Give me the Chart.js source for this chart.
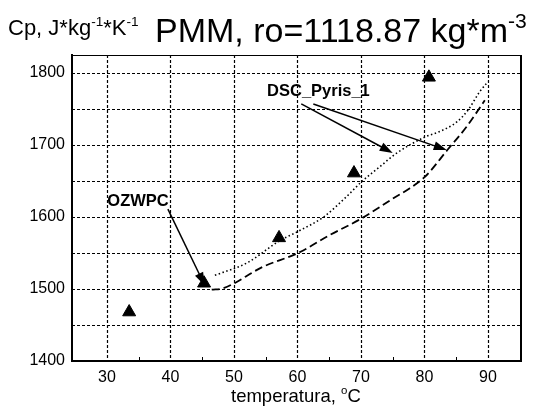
<!DOCTYPE html>
<html>
<head>
<meta charset="utf-8">
<script src="https://cdn.jsdelivr.net/npm/chart.js@4"></script>
<style>
    html, body { margin: 0; padding: 0; background: #fff; }
</style>
</head>
<body>
<canvas id="cp-chart" width="541" height="412"></canvas>
<script>
// Data
const tempTicks = [30, 40, 50, 60, 70, 80, 90];
const cpTicks = [1400, 1450, 1500, 1550, 1600, 1650, 1700, 1750, 1800];

// OZWPC measurements (triangles)
const ozwpcTemp = [33.5, 45.3, 57.1, 68.9, 80.7];
const ozwpcCp = [1468, 1508, 1571, 1661, 1794];

// DSC_Pyris_1, dotted curve
const dscDotTemp = [47.0, 52.0, 57.2, 60.1, 64.1, 67.7, 70.1, 73.0, 75.5, 80.3, 82.2, 85.1, 86.9, 88.7, 90.0];
const dscDotCp = [1519, 1536, 1567, 1580, 1600, 1628, 1649, 1670, 1688, 1712, 1718, 1732, 1749, 1774, 1788];

// DSC_Pyris_1, dashed curve
const dscDashTemp = [46.5, 48.3, 54.6, 60.1, 65.1, 70.1, 75.1, 77.7, 80.1, 83.6, 86.6, 88.5, 89.5];
const dscDashCp = [1499, 1501, 1531, 1550, 1575, 1598, 1626, 1640, 1656, 1693, 1725, 1749, 1762];

const toPoints = (xs, ys) => xs.map((x, i) => ({ x, y: ys[i] }));

// Labels with arrows, in data units
const notes = [
    { text: 'DSC_Pyris_1', x: 63.3, y: 1774, arrows: [[60.6, 1757, 75.0, 1689], [62.5, 1757, 83.5, 1693]] },
    { text: 'OZWPC', x: 34.9, y: 1622, arrows: [[39.6, 1611, 45.4, 1505]] }
];

const FONT = 'Arial, "Liberation Sans", sans-serif';

function arrow(ctx, x1, y1, x2, y2) {
    const ang = Math.atan2(y2 - y1, x2 - x1);
    const len = 13, half = 4.5;
    ctx.beginPath();
    ctx.moveTo(x1, y1);
    ctx.lineTo(x2 - Math.cos(ang) * len * 0.8, y2 - Math.sin(ang) * len * 0.8);
    ctx.stroke();
    ctx.beginPath();
    ctx.moveTo(x2, y2);
    ctx.lineTo(x2 - Math.cos(ang) * len - Math.sin(ang) * half, y2 - Math.sin(ang) * len + Math.cos(ang) * half);
    ctx.lineTo(x2 - Math.cos(ang) * len + Math.sin(ang) * half, y2 - Math.sin(ang) * len - Math.cos(ang) * half);
    ctx.closePath();
    ctx.fill();
}

// draw runs of text, some raised as superscripts
function drawRuns(ctx, x, y, runs, size) {
    runs.forEach(r => {
        const s = r.sup ? size * 0.62 : size;
        ctx.font = `${s}px ${FONT}`;
        ctx.fillText(r.t, x, r.sup ? y - size * 0.42 : y);
        x += ctx.measureText(r.t).width;
    });
}

// dotted grid, drawn under the data
const dottedGrid = {
    id: 'dottedGrid',
    beforeDatasetsDraw(chart) {
        const { ctx, chartArea: a, scales: { x, y } } = chart;
        ctx.save();
        ctx.strokeStyle = '#000';
        ctx.lineWidth = 1.2;
        ctx.setLineDash([3, 2]);
        cpTicks.forEach(v => {
            const py = Math.round(y.getPixelForValue(v)) + 0.5;
            if (py >= a.bottom - 1) return;
            ctx.beginPath();
            ctx.moveTo(a.left, py);
            ctx.lineTo(a.right, py);
            ctx.stroke();
        });
        tempTicks.forEach(v => {
            const px = Math.round(x.getPixelForValue(v)) + 0.5;
            ctx.beginPath();
            ctx.moveTo(px, a.top);
            ctx.lineTo(px, a.bottom);
            ctx.stroke();
        });
        ctx.restore();
    }
};

const extras = {
    id: 'extras',
    afterDraw(chart) {
        const { ctx, chartArea: a, scales: { x, y } } = chart;
        ctx.save();
        ctx.strokeStyle = '#000';
        ctx.fillStyle = '#000';

        // frame
        ctx.lineWidth = 1;
        ctx.beginPath();
        ctx.moveTo(a.left, a.top + 0.5);
        ctx.lineTo(a.right, a.top + 0.5);
        ctx.stroke();
        ctx.lineWidth = 2;
        ctx.beginPath();
        ctx.moveTo(a.right, a.top);
        ctx.lineTo(a.right, a.bottom);
        ctx.stroke();

        // minor ticks on x axis
        ctx.lineWidth = 1;
        [35, 45, 55, 65, 75, 85, 95].forEach(v => {
            const px = Math.round(x.getPixelForValue(v)) + 0.5;
            if (px > a.right) return;
            ctx.beginPath();
            ctx.moveTo(px, a.bottom);
            ctx.lineTo(px, a.bottom - 4);
            ctx.stroke();
        });

        // titles
        ctx.textBaseline = 'alphabetic';
        ctx.textAlign = 'left';
        drawRuns(ctx, 8, 35, [
            { t: 'Cp, J*kg' }, { t: '-1', sup: true }, { t: '*K' }, { t: '-1', sup: true }
        ], 22);
        drawRuns(ctx, 155, 42, [
            { t: 'PMM, ro=1118.87 kg*m' }, { t: '-3', sup: true }
        ], 34);

        // x axis title
        drawRuns(ctx, 231, 402, [
            { t: 'temperatura, ' }, { t: 'o', sup: true }, { t: 'C' }
        ], 18.5);

        // annotations
        ctx.lineWidth = 1.5;
        notes.forEach(n => {
            ctx.font = `bold 16.5px ${FONT}`;
            ctx.textAlign = 'center';
            ctx.textBaseline = 'middle';
            ctx.fillText(n.text, x.getPixelForValue(n.x), y.getPixelForValue(n.y));
            n.arrows.forEach(([x1, y1, x2, y2]) => {
                arrow(ctx, x.getPixelForValue(x1), y.getPixelForValue(y1),
                    x.getPixelForValue(x2), y.getPixelForValue(y2));
            });
        });
        ctx.restore();
    }
};

new Chart(document.getElementById('cp-chart'), {
    type: 'scatter',
    data: {
        datasets: [
            {
                label: 'DSC_Pyris_1 (dotted)',
                data: toPoints(dscDotTemp, dscDotCp),
                showLine: true,
                borderColor: '#000',
                borderWidth: 1.6,
                borderDash: [1.5, 2.5],
                cubicInterpolationMode: 'monotone',
                pointRadius: 0
            },
            {
                label: 'DSC_Pyris_1 (dashed)',
                data: toPoints(dscDashTemp, dscDashCp),
                showLine: true,
                borderColor: '#000',
                borderWidth: 1.8,
                borderDash: [8, 4],
                cubicInterpolationMode: 'monotone',
                pointRadius: 0
            },
            {
                label: 'OZWPC',
                data: toPoints(ozwpcTemp, ozwpcCp),
                pointStyle: 'triangle',
                pointRadius: 7.5,
                backgroundColor: '#000',
                borderColor: '#000',
                borderWidth: 1
            }
        ]
    },
    options: {
        responsive: false,
        animation: false,
        layout: { padding: { top: 55, right: 20, left: 0, bottom: 0 } },
        plugins: {
            legend: { display: false },
            tooltip: { enabled: false }
        },
        scales: {
            x: {
                type: 'linear',
                min: 24.5,
                max: 95.2,
                afterBuildTicks: s => { s.ticks = tempTicks.map(v => ({ value: v })); },
                afterFit: s => { s.height = 51; },
                ticks: {
                    color: '#000', font: { size: 16, family: FONT }, padding: 7,
                    autoSkip: false, maxRotation: 0, callback: v => String(v)
                },
                grid: { display: false, drawTicks: false, tickLength: 0 },
                border: { color: '#000', width: 2 }
            },
            y: {
                min: 1400,
                max: 1825,
                afterBuildTicks: s => { s.ticks = cpTicks.filter(v => v % 100 === 0).map(v => ({ value: v })); },
                afterFit: s => { s.width = 72; },
                ticks: {
                    color: '#000', font: { size: 16, family: FONT }, padding: 7,
                    autoSkip: false, callback: v => String(v)
                },
                grid: { display: false, drawTicks: false, tickLength: 0 },
                border: { color: '#000', width: 2 }
            }
        }
    },
    plugins: [dottedGrid, extras]
});
</script>
</body>
</html>
